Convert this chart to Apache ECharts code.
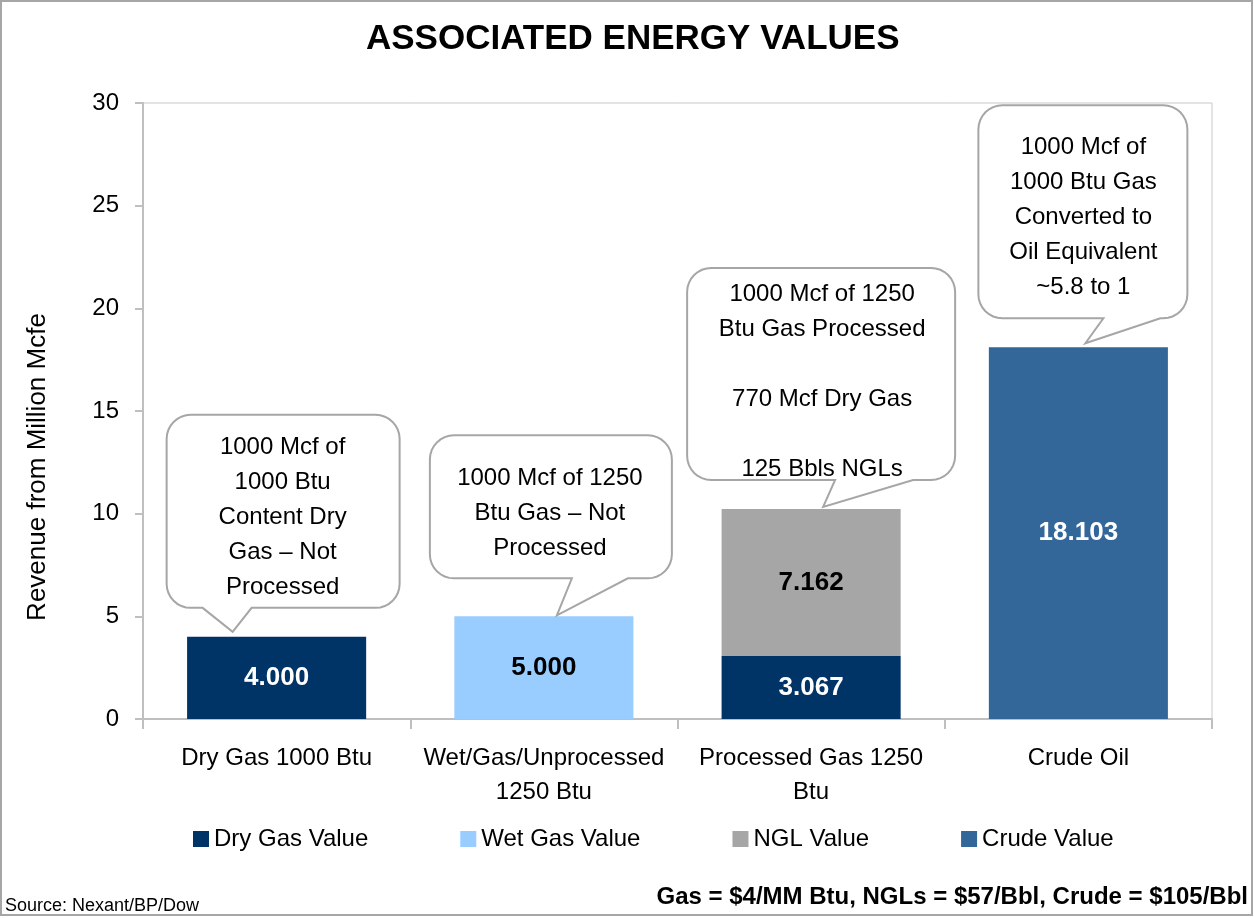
<!DOCTYPE html>
<html>
<head>
<meta charset="utf-8">
<title>Associated Energy Values</title>
<script src="https://cdn.jsdelivr.net/npm/echarts@6/dist/echarts.min.js"></script>
<style>
  html, body { margin: 0; padding: 0; background: #fff; }
  #chart { width: 1254px; height: 918px; }
</style>
</head>
<body>
<div id="chart"></div>
<script type="text/javascript">
// data
var categories = ['Dry Gas 1000 Btu', 'Wet/Gas/Unprocessed\n1250 Btu', 'Processed Gas 1250\nBtu', 'Crude Oil'];
var dryGas = [4.000, '-', 3.067, '-'];
var wetGas = ['-', 5.000, '-', '-'];
var nglVal = ['-', '-', 7.162, '-'];
var crude = ['-', '-', '-', 18.103];
var yTicks = [0, 5, 10, 15, 20, 25, 30];
var callouts = [
  ['1000 Mcf of', '1000 Btu', 'Content Dry', 'Gas \u2013 Not', 'Processed'],
  ['1000 Mcf of 1250', 'Btu Gas \u2013 Not', 'Processed'],
  ['1000 Mcf of 1250', 'Btu Gas Processed', '', '770 Mcf Dry Gas', '', '125 Bbls NGLs'],
  ['1000 Mcf of', '1000 Btu Gas', 'Converted to', 'Oil Equivalent', '~5.8 to 1']
];

var FONT = '"Liberation Sans", Arial, sans-serif';

// callout box geometry, relative to the top centre of each bar
// box [left, top, right, bottom], pointer base [x0, x1], tip [x, y], text centre [dx, dy]
var calloutLayout = [
  { box: [-110, -222, 123, -29], base: [-74, -25], tip: [-44, -5], text: [6, -119] },
  { box: [-114, -181, 128, -38], base: [28, 84], tip: [13, -1], text: [6, -103] },
  { box: [-124, -241, 144, -29], base: [24, 102], tip: [12, -2], text: [11, -127] },
  { box: [-100, -242, 109, -29], base: [25, 82], tip: [7, -4], text: [5, -130] }
];

var chart = echarts.init(document.getElementById('chart'));

function barLabel(color) {
  return {
    show: true,
    position: 'inside',
    color: color,
    fontFamily: FONT,
    fontWeight: 'bold',
    fontSize: 26,
    formatter: function (p) { return Number(p.value).toFixed(3); }
  };
}

var option = {
  backgroundColor: '#fff',
  animation: false,
  textStyle: { fontFamily: FONT },
  title: [{
    text: 'ASSOCIATED ENERGY VALUES',
    left: 366,
    top: 22,
    padding: 0,
    textStyle: { fontFamily: FONT, fontSize: 35, fontWeight: 'bold', color: '#000' }
  }, {
    text: 'Source: Nexant/BP/Dow',
    left: 5,
    top: 897,
    padding: 0,
    textStyle: { fontFamily: FONT, fontSize: 18, fontWeight: 'normal', color: '#000' }
  }, {
    text: 'Gas = $4/MM Btu, NGLs = $57/Bbl, Crude = $105/Bbl',
    right: 6,
    top: 885,
    padding: 0,
    textStyle: { fontFamily: FONT, fontSize: 24, fontWeight: 'bold', color: '#000' }
  }],
  legend: {
    left: 188,
    top: 822,
    icon: 'rect',
    itemWidth: 16,
    itemHeight: 16,
    itemGap: 92,
    textStyle: { fontFamily: FONT, fontSize: 24, color: '#000' },
    data: ['Dry Gas Value', 'Wet Gas Value', 'NGL Value', 'Crude Value']
  },
  grid: {
    left: 143, right: 42, top: 103, bottom: 199,
    show: true, borderColor: '#c8c8c8', borderWidth: 1, backgroundColor: 'transparent'
  },
  xAxis: {
    type: 'category',
    data: categories,
    axisLine: { lineStyle: { color: '#bfbfbf', width: 2 } },
    axisTick: { show: true, length: 10, lineStyle: { color: '#bfbfbf', width: 2 } },
    axisLabel: { color: '#000', fontFamily: FONT, fontSize: 24, margin: 22, lineHeight: 34, interval: 0 }
  },
  yAxis: {
    type: 'value',
    min: yTicks[0],
    max: yTicks[yTicks.length - 1],
    interval: yTicks[1] - yTicks[0],
    axisLine: { show: true, lineStyle: { color: '#bfbfbf', width: 2 } },
    axisTick: { show: true, length: 8, lineStyle: { color: '#bfbfbf', width: 2 } },
    axisLabel: { color: '#000', fontFamily: FONT, fontSize: 24, margin: 24 },
    splitLine: { show: false }
  },
  series: [
    { name: 'Dry Gas Value', type: 'bar', stack: 'total', barCategoryGap: '33%',
      itemStyle: { color: '#003366' }, label: barLabel('#fff'), data: dryGas },
    { name: 'Wet Gas Value', type: 'bar', stack: 'total',
      itemStyle: { color: '#99ccff' }, label: barLabel('#000'), data: wetGas },
    { name: 'NGL Value', type: 'bar', stack: 'total',
      itemStyle: { color: '#a6a6a6' }, label: barLabel('#000'), data: nglVal },
    { name: 'Crude Value', type: 'bar', stack: 'total',
      itemStyle: { color: '#336699' }, label: barLabel('#fff'), data: crude }
  ]
};
chart.setOption(option);

// totals per category, used to anchor callouts on bar tops
function num(v) { return v === '-' ? 0 : v; }
var totals = categories.map(function (c, i) {
  return num(dryGas[i]) + num(wetGas[i]) + num(nglVal[i]) + num(crude[i]);
});

// rounded box with a pointer, as a polygon outline
function calloutPoints(ax, ay, l) {
  var r = 24, n = 8, pts = [];
  var x0 = ax + l.box[0], y0 = ay + l.box[1], x1 = ax + l.box[2], y1 = ay + l.box[3];
  function corner(cx, cy, a0) {
    for (var k = 0; k <= n; k++) {
      var a = (a0 + 90 * k / n) * Math.PI / 180;
      pts.push([cx + r * Math.cos(a), cy + r * Math.sin(a)]);
    }
  }
  corner(x0 + r, y0 + r, 180);   // top left
  corner(x1 - r, y0 + r, 270);   // top right
  corner(x1 - r, y1 - r, 0);     // bottom right
  pts.push([ax + l.base[1], y1]);
  pts.push([ax + l.tip[0], ay + l.tip[1]]);
  pts.push([ax + l.base[0], y1]);
  corner(x0 + r, y1 - r, 90);    // bottom left
  return pts;
}

var graphics = [{
  type: 'rect',
  silent: true,
  shape: { x: 1, y: 1, width: 1251, height: 914 },
  style: { fill: 'none', stroke: '#a6a6a6', lineWidth: 2 }
}, {
  // y axis title, sits a little below the middle of the axis like the original
  type: 'text',
  silent: true,
  x: 38,
  y: 467,
  rotation: Math.PI / 2,
  style: {
    text: 'Revenue from Million Mcfe',
    align: 'center',
    verticalAlign: 'middle',
    fontFamily: FONT,
    fontSize: 26,
    fill: '#000'
  }
}];
callouts.forEach(function (lines, i) {
  var p = chart.convertToPixel({ gridIndex: 0 }, [i, totals[i]]);
  var l = calloutLayout[i];
  graphics.push({
    type: 'polygon',
    silent: true,
    shape: { points: calloutPoints(p[0], p[1], l) },
    style: { fill: '#fff', stroke: '#a6a6a6', lineWidth: 2 },
    z: 100
  });
  graphics.push({
    type: 'text',
    silent: true,
    x: p[0] + l.text[0],
    y: p[1] + l.text[1],
    style: {
      text: lines.join('\n'),
      align: 'center',
      verticalAlign: 'middle',
      fontFamily: FONT,
      fontSize: 24,
      lineHeight: 35,
      fill: '#000'
    },
    z: 101
  });
});
chart.setOption({ graphic: graphics });
</script>
</body>
</html>
